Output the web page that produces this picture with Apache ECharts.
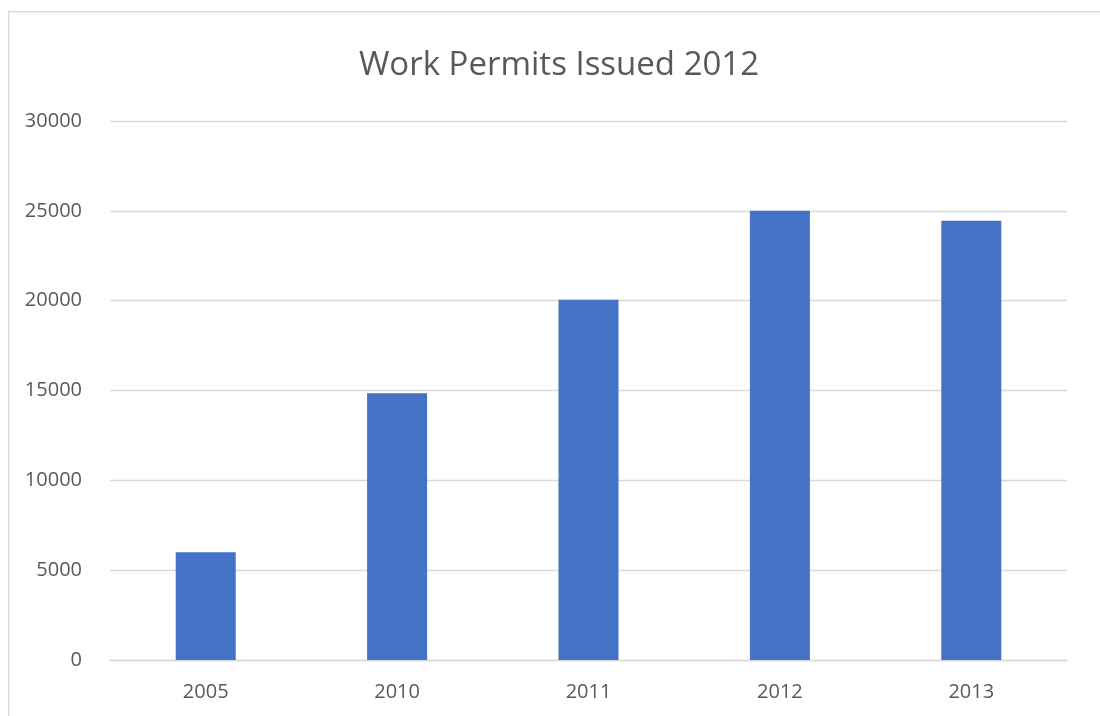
<!DOCTYPE html>
<html>
<head>
<meta charset="utf-8">
<title>Work Permits Issued 2012</title>
<script src="https://cdn.jsdelivr.net/npm/echarts@6/dist/echarts.min.js"></script>
<style>
  html, body { margin: 0; padding: 0; background: #ffffff; }
  #chart { width: 1100px; height: 716px; }
</style>
</head>
<body>
<div id="chart"></div>
<script>
// Chart data
const years = ['2005', '2010', '2011', '2012', '2013'];
const permits = [6000, 14850, 20050, 25000, 24450];
const yTicks = { min: 0, max: 30000, step: 5000 };

const textColor = '#595959';
const lineColor = '#d9d9d9';
const fontFamily = '"Open Sans", "Noto Sans", sans-serif';

const chart = echarts.init(document.getElementById('chart'), null, { renderer: 'canvas' });

chart.setOption({
  backgroundColor: '#ffffff',
  animation: false,
  textStyle: { fontFamily: fontFamily },
  title: {
    text: 'Work Permits Issued 2012',
    left: 554,
    top: 44,
    textAlign: 'center',
    textStyle: {
      fontFamily: fontFamily,
      fontSize: 33,
      fontWeight: 'normal',
      color: textColor
    }
  },
  // thin frame around the chart area
  graphic: [{
    type: 'rect',
    silent: true,
    shape: { x: 8.7, y: 11.7, width: 1200, height: 800 },
    style: { fill: 'none', stroke: lineColor, lineWidth: 1.4 }
  }],
  grid: {
    left: 110,
    right: 33,
    top: 121,
    bottom: 56
  },
  xAxis: {
    type: 'category',
    data: years,
    axisLine: { show: true, lineStyle: { color: lineColor, width: 1.4 } },
    axisTick: { show: false },
    axisLabel: {
      color: textColor,
      fontSize: 20,
      fontFamily: fontFamily,
      margin: 22
    }
  },
  yAxis: {
    type: 'value',
    min: yTicks.min,
    max: yTicks.max,
    interval: yTicks.step,
    axisLine: { show: false },
    axisTick: { show: false },
    splitLine: { lineStyle: { color: lineColor, width: 1.4 } },
    axisLabel: {
      color: textColor,
      fontSize: 20,
      fontFamily: fontFamily,
      margin: 28,
      formatter: function (v) { return String(v); }
    }
  },
  series: [{
    type: 'bar',
    data: permits,
    barWidth: 60,
    itemStyle: { color: '#4472c4' }
  }]
});
</script>
</body>
</html>
